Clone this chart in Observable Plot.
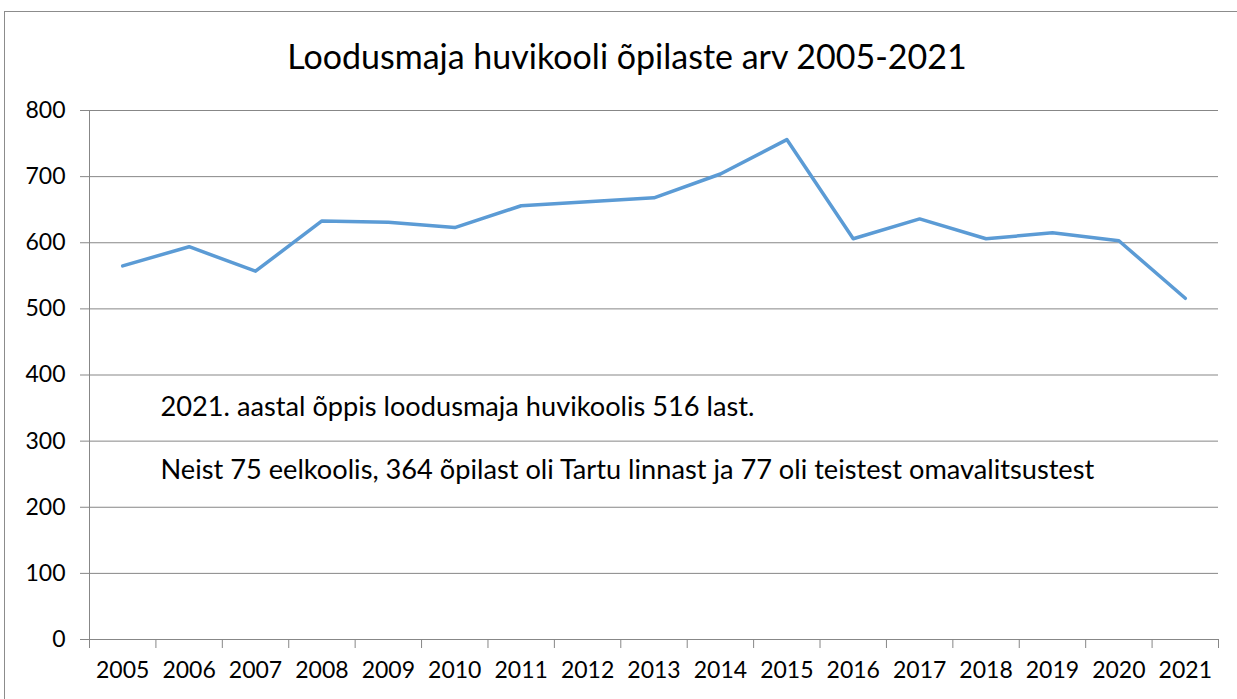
<!DOCTYPE html>
<html>
<head>
<meta charset="utf-8">
<script src="https://cdn.jsdelivr.net/npm/d3@7"></script>
<script src="https://cdn.jsdelivr.net/npm/@observablehq/plot@0.6"></script>
<style>
  body { margin: 0; background: #fff; font-family: Lato, sans-serif; }
  #wrap { position: relative; width: 1237px; height: 699px; overflow: hidden; background: #fff; }
  #frame { position: absolute; left: 4px; top: 11px; width: 1300px; height: 800px;
           border-top: 1px solid #8c8c8c; border-left: 1px solid #8c8c8c; }
  #title { position: absolute; left: 0; top: 0; width: 1254px; height: 80px; line-height: 112px;
           text-align: center; font-size: 34px; color: #000; font-family: Lato, sans-serif; white-space: nowrap; }
  #chart { position: absolute; left: 0; top: 80px; }
</style>
</head>
<body>
<div id="wrap">
  <div id="frame"></div>
  <div id="title"></div>
  <div id="chart"></div>
</div>
<script>
const titleText = "Loodusmaja huvikooli õpilaste arv 2005-2021";
const years = [2005, 2006, 2007, 2008, 2009, 2010, 2011, 2012, 2013, 2014, 2015, 2016, 2017, 2018, 2019, 2020, 2021];
const students = [565, 594, 557, 633, 631, 623, 656, 662, 668, 704, 756, 606, 636, 606, 615, 603, 516];
const yTicks = [0, 100, 200, 300, 400, 500, 600, 700, 800];
const notes = [
  "2021. aastal õppis loodusmaja huvikoolis 516 last.",
  "Neist 75 eelkoolis, 364 õpilast oli Tartu linnast ja 77 oli teistest omavalitsustest"
];

document.getElementById("title").textContent = titleText;

const data = years.map((y, i) => ({year: y, value: students[i]}));
const x0 = d3.min(years) - 0.5;
const x1 = d3.max(years) + 0.5;
const bounds = d3.range(x0, x1 + 0.01, 1);
const gridColor = "#878787";

const chart = Plot.plot({
  width: 1237,
  height: 619,
  marginLeft: 89,
  marginRight: 19,
  marginTop: 30,
  marginBottom: 60,
  x: {domain: [x0, x1]},
  y: {domain: [0, 800]},
  style: {fontFamily: "Lato, sans-serif", fontSize: "23px", color: "#000", background: "transparent", overflow: "visible"},
  marks: [
    Plot.gridY(yTicks, {stroke: gridColor, strokeOpacity: 1, strokeWidth: 1}),
    Plot.ruleX([x0], {stroke: gridColor, strokeWidth: 1}),
    Plot.axisY(yTicks, {tickSize: 9, tickPadding: 15, stroke: gridColor, fill: "#000", fontSize: 23, label: null}),
    Plot.axisX(bounds, {tickSize: 9, stroke: gridColor, tickFormat: () => "", label: null}),
    Plot.axisX(years, {tickSize: 0, tickPadding: 22, fill: "#000", fontSize: 23, tickFormat: d => String(d), label: null}),
    Plot.line(data, {x: "year", y: "value", stroke: "#5B9BD5", strokeWidth: 3.5, strokeLinejoin: "round", strokeLinecap: "round"}),
    Plot.text([notes[0]], {frameAnchor: "top-left", dx: 71, dy: 297, lineAnchor: "middle", textAnchor: "start", fill: "#000", fontSize: 27.2}),
    Plot.text([notes[1]], {frameAnchor: "top-left", dx: 71, dy: 360, lineAnchor: "middle", textAnchor: "start", fill: "#000", fontSize: 27.2})
  ]
});
document.getElementById("chart").appendChild(chart);
</script>
</body>
</html>
